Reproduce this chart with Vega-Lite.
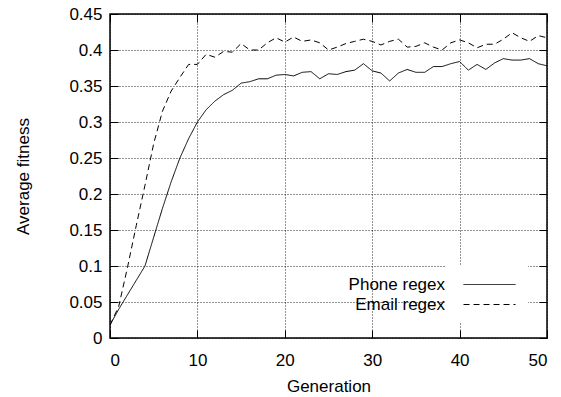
{
  "$schema": "https://vega.github.io/schema/vega-lite/v6.json",
  "width": 437,
  "height": 324,
  "autosize": {"type": "none"},
  "padding": {"left": 110, "top": 14, "right": 14, "bottom": 59},
  "background": "#ffffff",
  "config": {
    "view": {"stroke": "#000", "strokeWidth": 1.5},
    "font": "Liberation Sans",
    "axis": {
      "labelFont": "Liberation Sans",
      "titleFont": "Liberation Sans",
      "labelFontSize": 17,
      "titleFontSize": 17,
      "titleFontWeight": "normal",
      "labelColor": "#000",
      "titleColor": "#000",
      "tickColor": "#000",
      "tickWidth": 1,
      "tickSize": -8,
      "domain": false,
      "gridColor": "#000",
      "gridDash": [1, 2],
      "gridWidth": 1,
      "gridOpacity": 0.85
    }
  },
  "datasets": {
    "fit": [
      {"g": 0, "series": "Phone regex", "v": 0.018},
      {"g": 1, "series": "Phone regex", "v": 0.04},
      {"g": 2, "series": "Phone regex", "v": 0.06},
      {"g": 3, "series": "Phone regex", "v": 0.08},
      {"g": 4, "series": "Phone regex", "v": 0.1},
      {"g": 5, "series": "Phone regex", "v": 0.14},
      {"g": 6, "series": "Phone regex", "v": 0.18},
      {"g": 7, "series": "Phone regex", "v": 0.217},
      {"g": 8, "series": "Phone regex", "v": 0.25},
      {"g": 9, "series": "Phone regex", "v": 0.277},
      {"g": 10, "series": "Phone regex", "v": 0.3},
      {"g": 11, "series": "Phone regex", "v": 0.317},
      {"g": 12, "series": "Phone regex", "v": 0.329},
      {"g": 13, "series": "Phone regex", "v": 0.338},
      {"g": 14, "series": "Phone regex", "v": 0.344},
      {"g": 15, "series": "Phone regex", "v": 0.354},
      {"g": 16, "series": "Phone regex", "v": 0.356},
      {"g": 17, "series": "Phone regex", "v": 0.36},
      {"g": 18, "series": "Phone regex", "v": 0.36},
      {"g": 19, "series": "Phone regex", "v": 0.365},
      {"g": 20, "series": "Phone regex", "v": 0.366},
      {"g": 21, "series": "Phone regex", "v": 0.364},
      {"g": 22, "series": "Phone regex", "v": 0.369},
      {"g": 23, "series": "Phone regex", "v": 0.37},
      {"g": 24, "series": "Phone regex", "v": 0.36},
      {"g": 25, "series": "Phone regex", "v": 0.367},
      {"g": 26, "series": "Phone regex", "v": 0.366},
      {"g": 27, "series": "Phone regex", "v": 0.37},
      {"g": 28, "series": "Phone regex", "v": 0.372},
      {"g": 29, "series": "Phone regex", "v": 0.381},
      {"g": 30, "series": "Phone regex", "v": 0.371},
      {"g": 31, "series": "Phone regex", "v": 0.368},
      {"g": 32, "series": "Phone regex", "v": 0.357},
      {"g": 33, "series": "Phone regex", "v": 0.368},
      {"g": 34, "series": "Phone regex", "v": 0.373},
      {"g": 35, "series": "Phone regex", "v": 0.369},
      {"g": 36, "series": "Phone regex", "v": 0.369},
      {"g": 37, "series": "Phone regex", "v": 0.377},
      {"g": 38, "series": "Phone regex", "v": 0.377},
      {"g": 39, "series": "Phone regex", "v": 0.381},
      {"g": 40, "series": "Phone regex", "v": 0.384},
      {"g": 41, "series": "Phone regex", "v": 0.372},
      {"g": 42, "series": "Phone regex", "v": 0.38},
      {"g": 43, "series": "Phone regex", "v": 0.373},
      {"g": 44, "series": "Phone regex", "v": 0.382},
      {"g": 45, "series": "Phone regex", "v": 0.388},
      {"g": 46, "series": "Phone regex", "v": 0.386},
      {"g": 47, "series": "Phone regex", "v": 0.386},
      {"g": 48, "series": "Phone regex", "v": 0.388},
      {"g": 49, "series": "Phone regex", "v": 0.381},
      {"g": 50, "series": "Phone regex", "v": 0.378},
      {"g": 0, "series": "Email regex", "v": 0.018},
      {"g": 1, "series": "Email regex", "v": 0.044},
      {"g": 2, "series": "Email regex", "v": 0.098},
      {"g": 3, "series": "Email regex", "v": 0.156},
      {"g": 4, "series": "Email regex", "v": 0.212},
      {"g": 5, "series": "Email regex", "v": 0.27},
      {"g": 6, "series": "Email regex", "v": 0.315},
      {"g": 7, "series": "Email regex", "v": 0.343},
      {"g": 8, "series": "Email regex", "v": 0.362},
      {"g": 9, "series": "Email regex", "v": 0.38},
      {"g": 10, "series": "Email regex", "v": 0.38},
      {"g": 11, "series": "Email regex", "v": 0.394},
      {"g": 12, "series": "Email regex", "v": 0.39},
      {"g": 13, "series": "Email regex", "v": 0.398},
      {"g": 14, "series": "Email regex", "v": 0.397},
      {"g": 15, "series": "Email regex", "v": 0.409},
      {"g": 16, "series": "Email regex", "v": 0.4},
      {"g": 17, "series": "Email regex", "v": 0.4},
      {"g": 18, "series": "Email regex", "v": 0.41},
      {"g": 19, "series": "Email regex", "v": 0.417},
      {"g": 20, "series": "Email regex", "v": 0.411},
      {"g": 21, "series": "Email regex", "v": 0.418},
      {"g": 22, "series": "Email regex", "v": 0.412},
      {"g": 23, "series": "Email regex", "v": 0.414},
      {"g": 24, "series": "Email regex", "v": 0.41},
      {"g": 25, "series": "Email regex", "v": 0.4},
      {"g": 26, "series": "Email regex", "v": 0.404},
      {"g": 27, "series": "Email regex", "v": 0.409},
      {"g": 28, "series": "Email regex", "v": 0.412},
      {"g": 29, "series": "Email regex", "v": 0.415},
      {"g": 30, "series": "Email regex", "v": 0.412},
      {"g": 31, "series": "Email regex", "v": 0.407},
      {"g": 32, "series": "Email regex", "v": 0.412},
      {"g": 33, "series": "Email regex", "v": 0.415},
      {"g": 34, "series": "Email regex", "v": 0.404},
      {"g": 35, "series": "Email regex", "v": 0.405},
      {"g": 36, "series": "Email regex", "v": 0.41},
      {"g": 37, "series": "Email regex", "v": 0.404},
      {"g": 38, "series": "Email regex", "v": 0.4},
      {"g": 39, "series": "Email regex", "v": 0.41},
      {"g": 40, "series": "Email regex", "v": 0.414},
      {"g": 41, "series": "Email regex", "v": 0.41},
      {"g": 42, "series": "Email regex", "v": 0.403},
      {"g": 43, "series": "Email regex", "v": 0.408},
      {"g": 44, "series": "Email regex", "v": 0.408},
      {"g": 45, "series": "Email regex", "v": 0.415},
      {"g": 46, "series": "Email regex", "v": 0.424},
      {"g": 47, "series": "Email regex", "v": 0.417},
      {"g": 48, "series": "Email regex", "v": 0.412},
      {"g": 49, "series": "Email regex", "v": 0.42},
      {"g": 50, "series": "Email regex", "v": 0.417}
    ]
  },
  "data": {"name": "fit"},
  "layer": [
    {
      "mark": {"type": "line", "strokeWidth": 1, "clip": true},
      "encoding": {
        "x": {
          "field": "g", "type": "quantitative",
          "scale": {"domain": [0, 50], "nice": false, "zero": false},
          "axis": {"orient": "bottom", "values": [0, 10, 20, 30, 40, 50], "title": "Generation", "grid": true, "labelPadding": 22, "titlePadding": 10}
        },
        "y": {
          "field": "v", "type": "quantitative",
          "scale": {"domain": [0, 0.45], "nice": false},
          "axis": {"orient": "left", "values": [0, 0.05, 0.1, 0.15, 0.2, 0.25, 0.3, 0.35, 0.4, 0.45], "format": "~g", "title": "Average fitness", "grid": true, "labelPadding": 16, "titlePadding": 36}
        },
        "color": {
          "field": "series", "type": "nominal",
          "scale": {"domain": ["Phone regex", "Email regex"], "range": ["#000000", "#000000"]},
          "legend": {"title": null, "orient": "none", "legendX": 335, "legendY": 252, "symbolType": "M-5.2,0H5.2", "symbolSize": 100, "symbolStrokeWidth": 1, "symbolOffset": 26, "labelAlign": "right", "labelOffset": -53, "labelFontSize": 17, "labelFont": "Liberation Sans", "labelColor": "#000", "fillColor": "#ffffff", "padding": 10, "rowPadding": 2}
        },
        "strokeDash": {
          "field": "series", "type": "nominal",
          "scale": {"domain": ["Phone regex", "Email regex"], "range": [[1, 0], [6, 4]]},
          "legend": {"title": null, "orient": "none", "legendX": 335, "legendY": 252, "symbolType": "M-5.2,0H5.2", "symbolSize": 100, "symbolStrokeWidth": 1, "symbolOffset": 26, "labelAlign": "right", "labelOffset": -53, "labelFontSize": 17, "labelFont": "Liberation Sans", "labelColor": "#000", "fillColor": "#ffffff", "padding": 10, "rowPadding": 2}
        }
      }
    },
    {
      "mark": {"type": "line", "opacity": 0},
      "encoding": {
        "x": {"field": "g", "type": "quantitative", "axis": {"orient": "top", "values": [0, 10, 20, 30, 40, 50], "labels": false, "grid": false, "title": null}},
        "y": {"field": "v", "type": "quantitative", "axis": {"orient": "right", "values": [0, 0.05, 0.1, 0.15, 0.2, 0.25, 0.3, 0.35, 0.4, 0.45], "labels": false, "grid": false, "title": null}},
        "detail": {"field": "series", "type": "nominal"}
      }
    }
  ],
  "resolve": {"axis": {"x": "independent", "y": "independent"}}
}
